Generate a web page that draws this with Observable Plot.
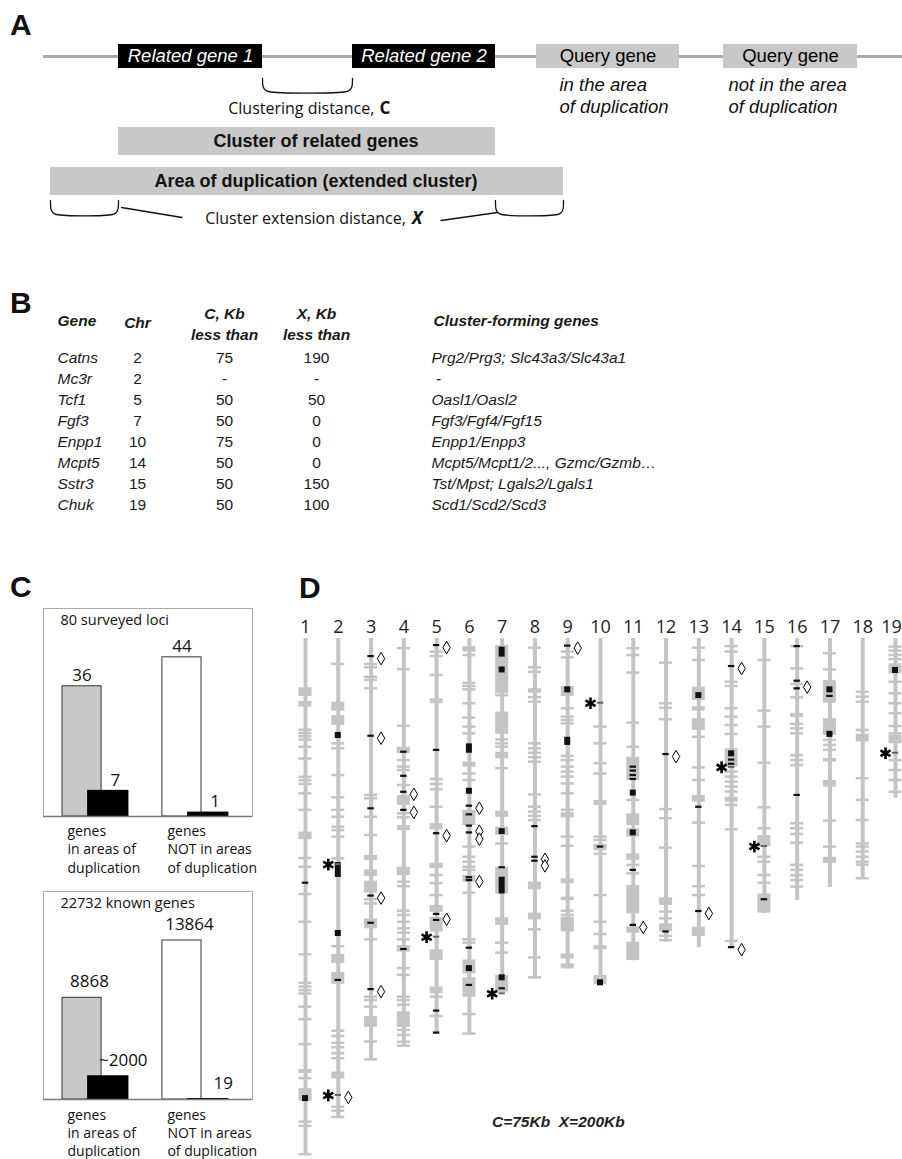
<!DOCTYPE html>
<html>
<head>
<meta charset="utf-8">
<script src="https://cdn.jsdelivr.net/npm/d3@7"></script>
<script src="https://cdn.jsdelivr.net/npm/@observablehq/plot@0.6"></script>
<style>
html, body { margin: 0; padding: 0; background: #fff; }
#fig { position: relative; width: 902px; height: 1159px; overflow: hidden; background: #fff; }
.letter { font: bold 30px "Liberation Sans", Arial, sans-serif; line-height: 30px; color: #111; white-space: pre; }
.note { font: italic bold 15.5px "Liberation Sans", Arial, sans-serif; line-height: 16px; white-space: pre; color: #222; }
</style>
</head>
<body>
<div id="fig"></div>
<script>
// ================= DATA =================
// ---- Panel A (schematic, positions in kb along a contig) ----
const schematicGenes = ["Related gene 1", "Related gene 2", "Query gene", "Query gene"];
const geneStartKb = [75, 309, 493, 680];
const geneEndKb = [219, 452, 636, 814];
const geneIsRelated = [true, true, false, false];
const queryNotes = ["in the area\nof duplication", "not in the area\nof duplication"];
const contigKb = [0, 859];
const extensionKb = 68;

// ---- Panel B (table) ----
const tableHeaders = ["Gene", "Chr", "C, Kb\nless than", "X, Kb\nless than", "Cluster-forming genes"];
const tableGenes = ["Catns", "Mc3r", "Tcf1", "Fgf3", "Enpp1", "Mcpt5", "Sstr3", "Chuk"];
const tableChr = ["2", "2", "5", "7", "10", "14", "15", "19"];
const tableC = ["75", "-", "50", "50", "75", "50", "50", "50"];
const tableX = ["190", "-", "50", "0", "0", "0", "150", "100"];
const tableCluster = ["Prg2/Prg3; Slc43a3/Slc43a1", " -", "Oasl1/Oasl2", "Fgf3/Fgf4/Fgf15",
  "Enpp1/Enpp3", "Mcpt5/Mcpt1/2..., Gzmc/Gzmb\u2026", "Tst/Mpst; Lgals2/Lgals1", "Scd1/Scd2/Scd3"];

// ---- Panel C (bar charts) ----
const cGroups = ["genes\nin areas of\nduplication", "genes\nNOT in areas\nof duplication"];
const lociTitle = "80 surveyed loci";
const lociTotals = [36, 44];
const lociInClusters = [7, 1];
const lociInClusterLabels = ["7", "1"];
const genesTitle = "22732 known genes";
const geneTotals = [8868, 13864];
const geneInClusters = [2000, 19];
const geneInClusterLabels = ["~2000", "19"];

// ---- Panel D (chromosome map, positions in Mb) ----
const chromosomes = ["1","2","3","4","5","6","7","8","9","10","11","12","13","14","15","16","17","18","19"];
const chrLengthMb = [197, 183, 161, 156, 151, 151, 135, 130, 126, 132, 123, 116, 118, 118, 105, 100, 95, 92, 61];
const grayTicksMb = [
  [35, 36.3, 37.5, 38.8, 41.5, 46, 53, 54.3, 55.7, 59.3, 65.6, 84, 87.3, 97.7, 108.3, 120.7, 131.6, 133, 134.4, 135.7, 140.7, 145.5, 155, 168, 184.6, 186.2, 197],
  [9.9, 40.2, 42.1, 52.3, 60.8, 65.6, 68.2, 72, 73.3, 75.8, 84.1, 117.6, 149.9, 151.9, 154.5, 156.2, 158.5, 160.4, 178.9, 180.4, 182.8],
  [9.9, 11.2, 14.8, 16, 19.2, 59.9, 61.2, 68.2, 75.2, 99.7, 101.3, 115, 136.9, 138.2, 140.7, 154, 160.8],
  [3.9, 11.9, 33.5, 46.6, 49.1, 50.4, 56.1, 66.9, 68.4, 87.9, 93, 94.7, 104.1, 105.7, 108.3, 110.8, 112.5, 115, 126, 128.6, 136.9, 138.2, 140, 149.6, 151.5, 154.1, 155.6],
  [5.2, 6.9, 14.1, 53.8, 55.7, 57.7, 64.4, 86.6, 90.5, 93.6, 98.1, 136.9, 144.3],
  [6.5, 17.1, 18.3, 19.6, 24.9, 30.4, 33.8, 36.4, 51.7, 54.2, 79.6, 83.5, 85.4, 87.3, 88.5, 97.2, 115, 116.3, 143.5, 151],
  [21.8, 38.7, 40.2, 41.5, 49.7, 78.4, 116.3, 120.1],
  [3.7, 11.2, 12.9, 22.6, 24.3, 40.2, 42.1, 43.8, 45.5, 47.2, 59.7, 64.4, 66.3, 67.9, 69.5, 111.2, 121.9, 129.5],
  [5.2, 7.4, 26.8, 30, 31.3, 32.6, 45, 46.6, 49.1, 51, 52.9, 55.5, 59.3, 65.6, 75.8, 79.3, 104.1, 105.7, 107.4, 109],
  [33.8, 40.2, 47.8, 51.7, 75.8, 77.1, 82.4, 98.1, 108.3, 113],
  [3.9, 6.5, 13.2, 32.3, 41.5, 61.8, 86.6, 89.8],
  [9.4, 24.9, 26.6, 31, 65.3, 68.8, 80, 104.4, 107, 113.7, 115.3],
  [3.7, 8.4, 37.7, 49.4, 54.2, 70.5, 87, 94.7, 98.1],
  [3.1, 5.2, 16.7, 18.3, 26.8, 30, 33.2, 36.6, 51, 52.9, 54.8, 56.7, 58.6, 63.7, 73, 115.6],
  [8.4, 27.7, 33.8, 47.6, 64.6, 72.6, 83.5, 85.4, 90.5, 93.4],
  [3.1, 11.6, 17.5, 22.6, 32.8, 34.5, 36.4, 44.7, 46.6, 48.5, 70.7, 72.6, 74.8, 78.1, 86.6, 88.5, 90.5, 92.4, 94.9],
  [5.8, 12, 38.9, 40.8, 42.7, 69.7, 79.6, 85.4],
  [20.5, 22.4, 24.3, 35.1, 53.5, 61.8, 69.5, 78.4, 79.6, 81.5, 83.5, 85.4, 86.5, 91.7],
  [3.3, 4.8, 6.5, 8.1, 16.7, 21.1, 24.9, 28.7, 33.6, 36.4, 46.6, 50.4, 54.2, 58.7]
];
const grayBlocksMb = [
  [[18.8,22.1],[24,26.2],[73.9,76.8],[164.5,166],[171.8,176.6]],
  [[24.3,27.7],[29.4,33.2],[120.6,124],[127.5,132],[165.5,168.1]],
  [[82.8,84.7],[88.3,90.8],[92.6,97.2],[107,110.8],[144.3,148.4]],
  [[41.5,44],[59.9,63.7],[71.4,73.3],[87.3,90.5],[117.2,119.7],[142.5,148.4]],
  [[23,24.9],[70.7,73],[85.8,87.8],[101.9,104.5],[106.4,112],[118.8,122.9],[133,135.6]],
  [[3.1,5.2],[47.2,49.1],[65.6,71.4],[90.5,93],[122.7,128],[129.5,136.9]],
  [[2.7,21.1],[28.1,36.6],[43.4,45.9],[65.9,68.2],[72,75.2],[87.3,97.5],[106.6,109.5],[128.6,135]],
  [[19.2,20.9],[93,95.9],[104.8,107.4]],
  [[18.3,22.1],[66.5,68.5],[91.7,93.6],[98.7,100],[106.4,112],[120.4,122.3],[124.2,126.1]],
  [[61.8,63.7],[78.6,81],[117.2,118.8],[128.6,132]],
  [[45.3,54.2],[66.9,71.4],[72.6,75.8],[82.2,84.7],[94.3,105.1],[110,112.5],[115.9,122.9]],
  [[99,101.9],[108.9,112]],
  [[18.6,23.7],[26,27.7],[30.6,35.1],[59.9,62.5],[110.2,113.7]],
  [[42.1,49.1],[60.6,62.5]],
  [[75.2,79.6],[97.5,104.8]],
  [[28.6,30.2]],
  [[16,24.7],[30.6,37],[45.8,47.2],[54.2,56.7],[83.5,85.8]],
  [[36.6,39.5]],
  [[9.7,13.5],[37,40.2]]
];
const blackSquaresMb = [[175.6],[37,112.6],[],[],[],[58.3,126],[12,129.5],[],[19.6],[131.4],[59,74.2],[],[21.8],[44],[],[],[19.6,36.6],[],[12.2]];
const blackBlocksMb = [[],[[85.5,91.2]],[],[],[],[[40.2,43.8]],[[3.3,7.1],[72.6,74.8],[91.1,97.5]],[],[[37.7,40.8]],[],[],[],[],[],[],[],[],[],[]];
const blackDashesMb = [
  [93.4],[130.5],[6.9,37.3,65,98.3,108.7,134],[43.4,52.6,58.7,65.6,118.7],[2.7,42.7,74.5,105.3,107.6,142.2,150.6],
  [64,67.3,71.6,74.2,91.3,92.4,118.2,132.4],[87.5,133.7],[71.8,83.5,85],[2.9],[79.6],[49.1,50.6,52.3,53.8,88.5,109.5],
  [44.3,112],[64.4,104.2],[10.7,46.4,48,118],[99.7],[3.1,16.3,19.2,59.9],[22.1],[],[]
];
const queryChr = ["2","2","5","7","10","14","15","19"];
const queryMb = [86.3, 174.4, 114, 135.6, 24.7, 49.2, 79.4, 43.8];
const diamondChr = ["2","3","3","3","3","4","4","5","5","5","6","6","6","6","8","8","9","11","12","13","14","14","16"];
const diamondMb = [174.4, 6.9, 37.3, 98.3, 134, 58.7, 65.6, 2.7, 74.5, 106.4, 64, 72.8, 75.8, 92, 83.5, 86, 2.9, 109.5, 44.3, 104.2, 10.7, 118, 17.8];
const footnote = "C=75Kb  X=200Kb";

// ================= HELPERS =================
const fig = document.getElementById("fig");
function put(node, left, top) {
  node.style.position = "absolute";
  node.style.left = left + "px";
  node.style.top = top + "px";
  node.style.background = "transparent";
  fig.appendChild(node);
  return node;
}
function htmlText(text, cls, left, top) {
  const d = document.createElement("div");
  d.className = cls;
  d.textContent = text;
  return put(d, left, top);
}
const ARIAL = "'Liberation Sans', Arial, sans-serif";
const OPEN = "'Open Sans', 'Noto Sans', sans-serif";

// ================= PANEL A =================
{
  const genes = schematicGenes.map((name, i) => ({name, start: geneStartKb[i], end: geneEndKb[i], related: geneIsRelated[i]}));
  const related = genes.filter(d => d.related);
  const queries = genes.filter(d => !d.related).map((d, i) => ({...d, note: queryNotes[i], noteDx: [23, 5][i]}));
  const clusterStart = d3.min(related, d => d.start);
  const clusterEnd = d3.max(related, d => d.end);
  const areaStart = clusterStart - extensionKb;
  const areaEnd = clusterEnd + extensionKb;
  const areaMid = (areaStart + areaEnd) / 2;
  const cMid = (related[0].end + related[1].start) / 2;
  const brace = (id, a, b, top, bot) =>
    [[a, top], [a + 0.6, bot - 5], [a + 2.5, bot - 1.8], [a + 6, bot], [b - 6, bot], [b - 2.5, bot - 1.8], [b - 0.6, bot - 5], [b, top]]
      .map(([x, y]) => ({id, x, y}));
  const braces = [
    ...brace("C", related[0].end, related[1].start, 78, 91),
    ...brace("XL", areaStart, clusterStart, 200, 214),
    ...brace("XR", clusterEnd, areaEnd, 200, 214)
  ];
  const connectors = [
    {id: "L", x: clusterStart + 3, y: 207}, {id: "L", x: areaMid - 125, y: 217},
    {id: "R", x: areaMid + 134, y: 220}, {id: "R", x: clusterEnd + 2, y: 212}
  ];
  const boxes = [
    {label: "Cluster of related genes", x1: clusterStart, x2: clusterEnd, y1: 127, y2: 155},
    {label: "Area of duplication (extended cluster)", x1: areaStart, x2: areaEnd, y1: 167, y2: 195}
  ];
  const svg = Plot.plot({
    width: 902, height: 240, marginLeft: 43, marginRight: 0, marginTop: 0, marginBottom: 0,
    x: {domain: contigKb, axis: null},
    y: {domain: [0, 240], range: [0, 240], axis: null},
    style: {background: "transparent", overflow: "visible"},
    marks: [
      Plot.ruleY([{y: 56, x1: contigKb[0], x2: contigKb[1]}], {y: "y", x1: "x1", x2: "x2", stroke: "#aaa", strokeWidth: 3}),
      Plot.rect(related, {x1: "start", x2: "end", y1: () => 44, y2: () => 68, fill: "#000"}),
      Plot.rect(queries, {x1: "start", x2: "end", y1: () => 44, y2: () => 68, fill: "#c8c8c8"}),
      Plot.text(related, {x: d => (d.start + d.end) / 2, y: () => 56, text: "name", fill: "#fff", fontStyle: "italic", fontSize: 18.5, fontFamily: ARIAL}),
      Plot.text(queries, {x: d => (d.start + d.end) / 2, y: () => 56, text: "name", fill: "#000", fontSize: 18.5, fontFamily: ARIAL}),
      Plot.text(queries, {x: d => d.start + d.noteDx, y: () => 94, text: "note", textAnchor: "start", lineAnchor: "middle", lineHeight: 1.2, fontStyle: "italic", fontSize: 18.5, fontFamily: ARIAL, fill: "#111"}),
      Plot.line(braces, {x: "x", y: "y", z: "id", stroke: "#111", strokeWidth: 1.3, curve: "catmull-rom"}),
      Plot.line(connectors, {x: "x", y: "y", z: "id", stroke: "#111", strokeWidth: 1.3}),
      Plot.text(["Clustering distance, "], {x: () => cMid + 71, y: () => 108, text: d => d, textAnchor: "end", fontSize: 16, fontFamily: OPEN, fill: "#111"}),
      Plot.text(["C"], {x: () => cMid + 72, y: () => 108, text: d => d, textAnchor: "start", fontWeight: "bold", fontSize: 17, fontFamily: OPEN, fill: "#111"}),
      Plot.rect(boxes, {x1: "x1", x2: "x2", y1: "y1", y2: "y2", fill: "#c8c8c8"}),
      Plot.text(boxes, {x: d => (d.x1 + d.x2) / 2, y: d => (d.y1 + d.y2) / 2, dx: 9, text: "label", fontWeight: "bold", fontSize: 18, fontFamily: ARIAL, fill: "#111"}),
      Plot.text(["Cluster extension distance, "], {x: () => areaMid + 103, y: () => 218, text: d => d, textAnchor: "end", fontSize: 16, fontFamily: OPEN, fill: "#111"}),
      Plot.text(["X"], {x: () => areaMid + 105, y: () => 218, text: d => d, textAnchor: "start", fontWeight: "bold", fontStyle: "italic", fontSize: 17, fontFamily: OPEN, fill: "#111"})
    ]
  });
  put(svg, 0, 0);
}

// ================= PANEL B =================
{
  const colX = [57, 137, 224, 316, 431];
  const colAnchor = ["start", "middle", "middle", "middle", "start"];
  const headers = tableHeaders.map((h, i) => ({h, x: colX[i] + (i === 4 ? 2 : 0), anchor: colAnchor[i], y: h.includes("\n") ? 322.5 : 321}));
  const rows = tableGenes.map((g, i) => ({g, chr: tableChr[i], c: tableC[i], xk: tableX[i], cl: tableCluster[i], y: 358 + 21 * i}));
  const common = {y: "y", fontSize: 15.5, fontFamily: ARIAL, fill: "#1a1a1a", lineAnchor: "middle"};
  const svg = Plot.plot({
    width: 902, height: 240, marginLeft: 0, marginRight: 0, marginTop: 0, marginBottom: 0,
    x: {domain: [0, 902], range: [0, 902], axis: null},
    y: {domain: [270, 510], range: [0, 240], axis: null},
    style: {background: "transparent", overflow: "visible"},
    marks: [
      Plot.text(headers.filter(d => d.anchor === "start"), {x: "x", y: "y", text: "h", textAnchor: "start", lineAnchor: "middle", fontWeight: "bold", fontStyle: "italic", fontSize: 15.5, fontFamily: ARIAL, fill: "#1a1a1a"}),
      Plot.text(headers.filter(d => d.anchor === "middle"), {x: "x", y: "y", text: "h", textAnchor: "middle", lineAnchor: "middle", lineHeight: 1.35, fontWeight: "bold", fontStyle: "italic", fontSize: 15.5, fontFamily: ARIAL, fill: "#1a1a1a"}),
      Plot.text(rows, {...common, x: () => colX[0], text: "g", textAnchor: "start", fontStyle: "italic"}),
      Plot.text(rows, {...common, x: () => colX[1], text: "chr", textAnchor: "middle"}),
      Plot.text(rows, {...common, x: () => colX[2], text: "c", textAnchor: "middle"}),
      Plot.text(rows, {...common, x: () => colX[3], text: "xk", textAnchor: "middle"}),
      Plot.text(rows, {...common, x: () => colX[4], text: "cl", textAnchor: "start", fontStyle: "italic"})
    ]
  });
  put(svg, 0, 270);
}

// ================= PANEL C =================
function cChart({title, totals, subsets, subsetLabels, yMax, height, marginTop, marginBottom, totalDx, subsetDx, valueDy, groupDy}) {
  const rows = cGroups.map((label, g) => ({g, label, total: totals[g], subset: subsets[g], subsetLabel: subsetLabels[g]}));
  const tx1 = d => 0.091 + 0.478 * d.g, tx2 = d => 0.278 + 0.478 * d.g;
  const sx1 = d => 0.215 + 0.478 * d.g, sx2 = d => 0.405 + 0.478 * d.g;
  return Plot.plot({
    width: 280, height, marginLeft: 43, marginRight: 28, marginTop, marginBottom,
    x: {domain: [0, 1], axis: null},
    y: {domain: [0, yMax], axis: null},
    style: {background: "transparent", overflow: "visible"},
    marks: [
      Plot.frame({stroke: "#aaa", strokeWidth: 1}),
      Plot.rect(rows.filter(d => d.g === 0), {x1: tx1, x2: tx2, y1: () => 0, y2: "total", fill: "#c8c8c8", stroke: "#333", strokeWidth: 1}),
      Plot.rect(rows.filter(d => d.g === 1), {x1: tx1, x2: tx2, y1: () => 0, y2: "total", fill: "#fff", stroke: "#333", strokeWidth: 1}),
      Plot.rect(rows, {x1: sx1, x2: sx2, y1: () => 0, y2: "subset", fill: "#000", stroke: "#000", strokeWidth: 1.6}),
      Plot.ruleY([0], {stroke: "#777", strokeWidth: 1.5}),
      Plot.text(rows, {x: d => (tx1(d) + tx2(d)) / 2, y: "total", text: d => String(d.total), dx: totalDx, dy: valueDy, lineAnchor: "middle", fontSize: 17, fontFamily: OPEN, fill: "#111"}),
      Plot.text(rows, {x: d => (sx1(d) + sx2(d)) / 2, y: "subset", text: "subsetLabel", dx: subsetDx, dy: valueDy, lineAnchor: "middle", fontSize: 17, fontFamily: OPEN, fill: "#111"}),
      Plot.text([title], {frameAnchor: "top-left", text: d => d, dx: 17, dy: 12, textAnchor: "start", lineAnchor: "middle", fontSize: 14.5, fontFamily: OPEN, fill: "#111"}),
      Plot.text(rows, {x: tx1, y: () => 0, text: "label", dx: 5, dy: groupDy, textAnchor: "start", lineAnchor: "middle", lineHeight: 1.3, fontSize: 14, fontFamily: OPEN, fill: "#111"})
    ]
  });
}
put(cChart({title: lociTitle, totals: lociTotals, subsets: lociInClusters, subsetLabels: lociInClusterLabels,
  yMax: 57.5, height: 275, marginTop: 8, marginBottom: 59, totalDx: 0, subsetDx: 7, valueDy: -11, groupDy: 32}), 0, 600);
put(cChart({title: genesTitle, totals: geneTotals, subsets: geneInClusters, subsetLabels: geneInClusterLabels,
  yMax: 18137, height: 279, marginTop: 11, marginBottom: 60, totalDx: 7.5, subsetDx: 15, valueDy: -16, groupDy: 32.5}), 0, 880);

// ================= PANEL D =================
{
  const GRAY = "#c4c4c4";
  const idx = c => chromosomes.indexOf(c) + 1;
  const chrs = chromosomes.map((name, i) => ({name, c: i + 1, len: chrLengthMb[i]}));
  const flat = (arr, f) => arr.flatMap((list, i) => list.map(v => f(i + 1, v)));
  const ticks = flat(grayTicksMb, (c, y) => ({c, y}));
  const blocks = flat(grayBlocksMb, (c, [a, b]) => ({c, y1: a, y2: b}));
  const bBlocks = flat(blackBlocksMb, (c, [a, b]) => ({c, y1: a, y2: b}));
  const squares = flat(blackSquaresMb, (c, y) => ({c, y}));
  const dashes = flat(blackDashesMb, (c, y) => ({c, y}));
  const queries = queryChr.map((ch, i) => ({c: idx(ch), y: queryMb[i]}));
  const diamonds = diamondChr.map((ch, i) => ({c: idx(ch), y: diamondMb[i]}));
  const lozenge = {draw(ctx) { ctx.moveTo(0, -6.3); ctx.lineTo(3.7, 0); ctx.lineTo(0, 6.3); ctx.lineTo(-3.7, 0); ctx.closePath(); }};
  const lastC = chrs.length;
  const labelStyle = {x: "c", frameAnchor: "top", dy: -11, text: "name", lineAnchor: "middle", fontSize: 18, fontFamily: OPEN, fill: "#222"};
  const svg = Plot.plot({
    width: 622, height: 559, marginLeft: 25, marginRight: 7, marginTop: 38, marginBottom: 0,
    x: {domain: [1, 19], axis: null},
    y: {domain: [0, 198.85], range: [38, 559], axis: null},
    style: {background: "transparent", overflow: "visible"},
    marks: [
      Plot.ruleX(chrs, {x: "c", y1: () => 0, y2: "len", stroke: GRAY, strokeWidth: 4}),
      Plot.rect(ticks, {x1: "c", x2: "c", y1: "y", y2: "y", insetLeft: -6.5, insetRight: -6.5, insetTop: -1.25, insetBottom: -1.25, fill: GRAY}),
      Plot.rect(blocks, {x1: "c", x2: "c", y1: "y1", y2: "y2", insetLeft: -6.5, insetRight: -6.5, fill: GRAY}),
      Plot.rect(bBlocks, {x1: "c", x2: "c", y1: "y1", y2: "y2", insetLeft: -3, insetRight: -3, fill: "#111"}),
      Plot.rect(squares, {x1: "c", x2: "c", y1: "y", y2: "y", insetLeft: -3, insetRight: -3, insetTop: -3, insetBottom: -3, fill: "#111"}),
      Plot.rect(dashes, {x1: "c", x2: "c", y1: "y", y2: "y", insetLeft: -3.2, insetRight: -3.2, insetTop: -1.1, insetBottom: -1.1, fill: "#111"}),
      Plot.rect(queries, {x1: "c", x2: "c", y1: "y", y2: "y", insetLeft: -3.2, insetRight: -3.2, insetTop: -1, insetBottom: -1, fill: "#666"}),
      Plot.dot(queries, {x: "c", y: "y", dx: -10, symbol: "asterisk", r: 5.5, stroke: "#000", strokeWidth: 2.6}),
      Plot.dot(diamonds, {x: "c", y: "y", dx: 10, dy: 2, symbol: lozenge, r: 4, fill: "#fff", stroke: "#000", strokeWidth: 1}),
      Plot.text(chrs.filter(d => d.c < lastC), labelStyle),
      Plot.text(chrs.filter(d => d.c === lastC), {...labelStyle, dx: -4})
    ]
  });
  put(svg, 280, 600);
}

// ================= LABELS =================
htmlText("A", "letter", 10, 10);
htmlText("B", "letter", 10, 288);
htmlText("C", "letter", 10, 572);
htmlText("D", "letter", 299, 573);
htmlText(footnote, "note", 492, 1114);
</script>
</body>
</html>
